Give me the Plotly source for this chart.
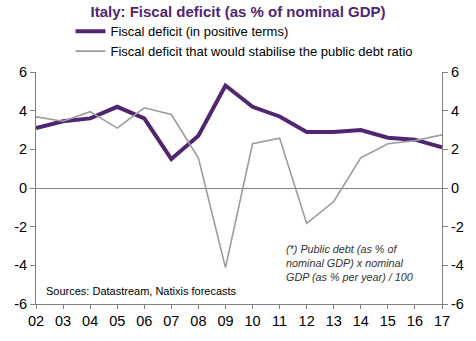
import plotly.graph_objects as go

years = list(range(2002, 2018))
year_labels = ["02", "03", "04", "05", "06", "07", "08", "09", "10", "11", "12", "13", "14", "15", "16", "17"]
fiscal_deficit = [3.1, 3.45, 3.6, 4.2, 3.6, 1.5, 2.7, 5.3, 4.2, 3.7, 2.9, 2.9, 3.0, 2.6, 2.5, 2.1]
stabilising_deficit = [3.68, 3.45, 3.95, 3.1, 4.15, 3.8, 1.55, -4.12, 2.29, 2.58, -1.83, -0.7, 1.56, 2.29, 2.45, 2.75]
y_ticks = [-6, -4, -2, 0, 2, 4, 6]
y_tick_labels = ["-6", "-4", "-2", "0", "2", "4", "6"]

purple = "#502673"
grey = "#9c9c9c"
axis_col = "#808080"
font_family = "Liberation Sans, Arial, sans-serif"

fig = go.Figure()
fig.add_trace(go.Scatter(x=years, y=fiscal_deficit, mode="lines",
                         name="Fiscal deficit (in positive terms)",
                         line=dict(color=purple, width=4)))
fig.add_trace(go.Scatter(x=years, y=stabilising_deficit, mode="lines",
                         name="Fiscal deficit that would stabilise the public debt ratio",
                         line=dict(color=grey, width=1.6)))
# invisible trace for right axis
fig.add_trace(go.Scatter(x=years, y=fiscal_deficit, mode="lines", yaxis="y2",
                         showlegend=False, hoverinfo="skip",
                         line=dict(color="rgba(0,0,0,0)", width=0)))

fig.update_layout(
    width=476, height=341,
    margin=dict(l=36, r=33, t=72, b=33),
    paper_bgcolor="white", plot_bgcolor="white",
    font=dict(family=font_family, color="black", size=14),
    title=dict(text="<b>Italy: Fiscal deficit (as % of nominal GDP)</b>",
               x=0.5, xanchor="center", y=0.965, yanchor="middle",
               font=dict(size=15, color=purple, family=font_family)),
    legend=dict(x=0.085, xref="paper", y=1.24, yref="paper", yanchor="top",
                xanchor="left",
                font=dict(size=13, family=font_family, color="black"),
                bgcolor="rgba(0,0,0,0)", tracegroupgap=0, itemwidth=30,
                orientation="v"),
    xaxis=dict(range=[2002, 2017], tickvals=years, ticktext=year_labels,
               showgrid=False, zeroline=False, showline=True, linecolor=axis_col,
               linewidth=1, ticks="outside", ticklen=4, tickcolor=axis_col,
               tickfont=dict(size=14.5), fixedrange=True),
    yaxis=dict(range=[-6, 6], tickvals=y_ticks, ticktext=y_tick_labels, showgrid=False,
               zeroline=True, zerolinecolor=axis_col, zerolinewidth=1,
               showline=True, linecolor=axis_col, linewidth=1,
               ticks="outside", ticklen=5, tickcolor=axis_col,
               tickfont=dict(size=14.5)),
    yaxis2=dict(range=[-6, 6], tickvals=y_ticks, ticktext=y_tick_labels,
                overlaying="y", side="right",
                showgrid=False, zeroline=False, showline=True, linecolor=axis_col,
                linewidth=1, ticks="outside", ticklen=5, tickcolor=axis_col,
                tickfont=dict(size=14.5)),
    showlegend=True,
)

fig.add_annotation(text="Sources: Datastream, Natixis forecasts",
                   xref="paper", yref="y", x=0.02, y=-5.34, xanchor="left",
                   yanchor="middle", showarrow=False,
                   font=dict(size=11, family=font_family, color="black"))
fig.add_annotation(text="<i>(*) Public debt (as % of<br>nominal GDP) x nominal<br>GDP (as % per year) / 100</i>",
                   xref="paper", yref="y", x=0.61, y=-3.86, xanchor="left",
                   yanchor="middle", showarrow=False, align="left",
                   font=dict(size=10.8, family=font_family, color="#333333"))

fig.write_html("out.html")
